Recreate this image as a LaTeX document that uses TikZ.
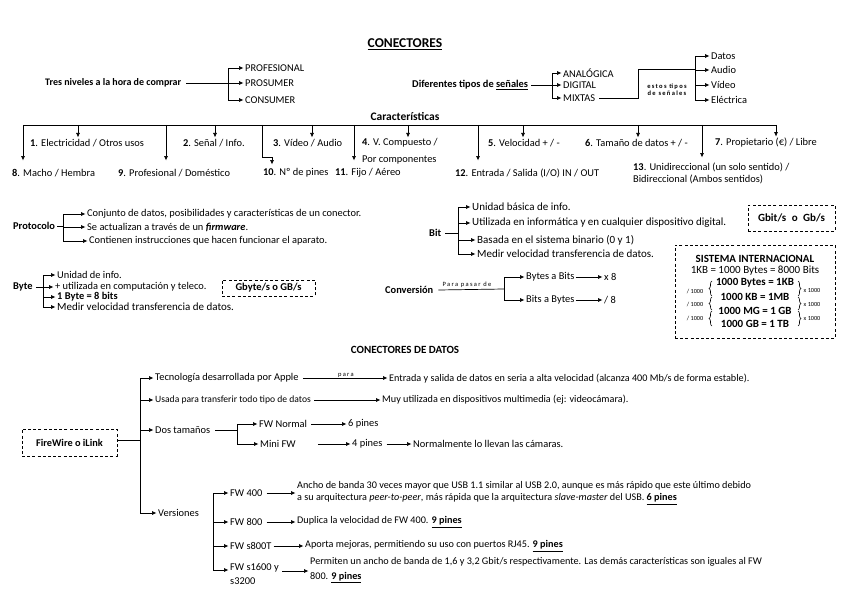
\documentclass[tikz,border=0pt]{standalone}
\usepackage{fontspec}
\setmainfont{Carlito}
\usetikzlibrary{arrows.meta,decorations.pathreplacing}
\newcommand\fsz{\fontsize{10.4}{12}\selectfont}
\newcommand\fsw{\fontsize{10.2}{12}\selectfont}
\newcommand\fsb{\fontsize{11}{13}\selectfont}
\newcommand\fsm{\fontsize{6.2}{7}\selectfont}
\newcommand\fsl{\fontsize{6.5}{7.2}\selectfont\addfontfeatures{LetterSpace=20}}
\newcommand\fssi{\fontsize{11}{13}\selectfont}
\newcommand\pinesu[1]{\underline{\textbf{#1}}}
\tikzset{
  t/.style={anchor=west, inner sep=0pt, font=\fsz},
  tb/.style={anchor=west, inner sep=0pt, font=\fsz\bfseries},
  ar/.style={-{Latex[length=4.5pt,width=4pt]}, line width=0.7pt, shorten >=1.5pt},
  ln/.style={line width=0.7pt},
  dbox/.style={draw, line width=0.8pt, dash pattern=on 3pt off 2.2pt, inner sep=0pt},
  brc/.style={line width=0.6pt, decorate, decoration={brace, amplitude=3pt}},
}
\begin{document}
\begin{tikzpicture}[x=1pt,y=-1pt]
\fill[white] (0,0) rectangle (848,599);
\useasboundingbox (0,0) rectangle (848,599);

% ---------- Title
\node[inner sep=0pt, font=\fontsize{13.5}{15}\selectfont\bfseries] (title) at (405,44) {\underline{CONECTORES}};

% ---------- Tres niveles
\node[tb, font=\fontsize{10}{12}\selectfont\bfseries] (tres) at (45,83) {Tres niveles a la hora de comprar};
\node[t] (prof) at (245,68) {PROFESIONAL};
\node[t] (pros) at (245,83) {PROSUMER};
\node[t] (cons) at (245,100) {CONSUMER};
\coordinate (j1) at (228,83);
\draw[ln] ([xshift=5pt]tres.east) -- (j1);
\draw[ar] (j1) |- (prof);
\draw[ar] (j1) -- (pros);
\draw[ar] (j1) |- (cons);

% ---------- Diferentes tipos de señales
\node[tb] (dif) at (412,85) {Diferentes tipos de \underline{señales}};
\node[t] (ana) at (563,73) {ANALÓGICA};
\node[t] (dig) at (563,85) {DIGITAL};
\node[t] (mix) at (563,98) {MIXTAS};
\coordinate (j2) at (552,85);
\draw[ln] ([xshift=3pt]dif.east) -- (j2);
\draw[ar] (j2) |- (ana);
\draw[ar] (j2) -- (dig);
\draw[ar] (j2) |- (mix);
\node[t] (dat) at (711,56) {Datos};
\node[t] (aud) at (711,70) {Audio};
\node[t] (vid) at (711,85) {Vídeo};
\node[t] (ele) at (711,100) {Eléctrica};
\coordinate (k1) at (638,98);
\coordinate (j3) at (695,69);
\draw[ln] ([xshift=4pt]mix.east) -- (k1) |- (j3);
\draw[ar] (j3) |- (dat);
\draw[ar] (j3) |- (aud);
\draw[ar] (j3) |- (vid);
\draw[ar] (j3) |- (ele);
\node[inner sep=0pt, font=\fsl\bfseries, align=center] (est) at (667,90) {estos tipos\\de señales};

% ---------- Características
\node[inner sep=0pt, font=\fontsize{11.5}{13}\selectfont\bfseries] (car) at (405,116) {Características};
\coordinate (hl) at (23,125);
\coordinate (hr) at (777,125);
\draw[ln] (hl) -- (hr);
% texts
\node[t] (c1) at (30,143) {\textbf{1}. Electricidad / Otros usos};
\node[t] (c2) at (183,143) {\textbf{2}. Señal / Info.};
\node[t] (c3) at (273,143) {\textbf{3}. Vídeo / Audio};
\node[t, align=left, font=\fontsize{10.4}{17}\selectfont] (c4) at (362,151.5) {\textbf{4}. V. Compuesto /\\Por componentes};
\node[t] (c5) at (488,143) {\textbf{5}. Velocidad + / -};
\node[t] (c6) at (585,143) {\textbf{6}. Tamaño de datos + / -};
\node[t] (c7) at (715,143) {\textbf{7}. Propietario (€) / Libre};
\node[t] (c8) at (12,173) {\textbf{8}. Macho / Hembra};
\node[t] (c9) at (118,173) {\textbf{9}. Profesional / Doméstico};
\node[t] (c10) at (263,173) {\textbf{10}. Nº de pines};
\node[t] (c11) at (335,173) {\textbf{11}. Fijo / Aéreo};
\node[t] (c12) at (455,173) {\textbf{12}. Entrada / Salida (I/O) IN / OUT};
\node[t, align=left, font=\fontsize{10.4}{11.5}\selectfont] (c13) at (633,173.5) {\textbf{13}. Unidireccional (un solo sentido) /\\Bidireccional (Ambos sentidos)};
% drops
\coordinate (d1) at (78,125);   \draw[ar] (d1) -- (d1 |- c1.north);
\coordinate (d2) at (215,125);  \draw[ar] (d2) -- (d2 |- c2.north);
\coordinate (d3) at (312,125);  \draw[ar] (d3) -- (d3 |- c3.north);
\coordinate (d4) at (408,125);  \draw[ar] (d4) -- (d4 |- c1.north);
\coordinate (d5) at (523,125);  \draw[ar] (d5) -- (d5 |- c5.north);
\coordinate (d6) at (638,125);  \draw[ar] (d6) -- (d6 |- c6.north);
\coordinate (d7) at (776,125);  \draw[ar] (d7) -- (d7 |- c7.north);
\coordinate (e8) at (23,162);   \draw[ar] (hl) -- (e8);
\coordinate (d9) at (166,125);  \coordinate (e9) at (166,162);  \draw[ar] (d9) -- (e9);
\coordinate (d10) at (262,125); \coordinate (m10) at (272,157); \coordinate (e10) at (272,166);
\draw[ar] (d10) |- (m10) -- (e10);
\coordinate (d11) at (354,125); \coordinate (e11) at (354,162); \draw[ar] (d11) -- (e11);
\coordinate (d12) at (478,125); \coordinate (e12) at (478,162); \draw[ar] (d12) -- (e12);
\coordinate (d13) at (702,125); \coordinate (e13) at (702,159); \draw[ar] (d13) -- (e13);

% ---------- Protocolo
\node[tb] (prot) at (13,226) {Protocolo};
\node[t] (p1) at (87,214) {Conjunto de datos, posibilidades y características de un conector.};
\node[t] (p2) at (87,227) {Se actualizan a través de un \textbf{\textit{firmware}}.};
\node[t] (p3) at (89,241) {Contienen instrucciones que hacen funcionar el aparato.};
\coordinate (jp) at (63,226);
\draw[ln] ([xshift=2pt]prot.east) -- (jp);
\draw[ar] (jp) |- (p1);
\draw[ar] (jp) |- (p2);
\draw[ar] (jp) |- (p3);

% ---------- Byte
\node[tb] (byte) at (13,287) {Byte};
\node[t] (b1) at (57,275) {Unidad de info.};
\node[t] (b2) at (55,287) {+ utilizada en computación y teleco.};
\node[t] (b3) at (57,297) {\textbf{1 Byte = 8 bits}};
\node[t, font=\fsb] (b4) at (57,307) {Medir velocidad transferencia de datos.};
\coordinate (jb) at (43,287);
\draw[ln] ([xshift=3pt]byte.east) -- (jb);
\draw[ar] (jb) |- (b1);
\draw[ar] (jb) -- (b2);
\draw[ar] (jb) |- (b3);
\draw[ar] (jb) |- (b4);
\node[dbox, minimum width=93pt, minimum height=16pt, font=\fontsize{10.5}{12}\selectfont\bfseries] (gby) at (268.5,288) {Gbyte/s o GB/s};

% ---------- Bit
\node[tb] (bit) at (429,233) {Bit};
\node[t, font=\fsb] (t1) at (472,207) {Unidad básica de info.};
\node[t, font=\fsb] (t2) at (472,223) {Utilizada en informática y en cualquier dispositivo digital.};
\node[t, font=\fsb] (t3) at (477,240) {Basada en el sistema binario (0 y 1)};
\node[t, font=\fsb] (t4) at (477,254) {Medir velocidad transferencia de datos.};
\coordinate (jt) at (458,233);
\draw[ln] ([xshift=4pt]bit.east) -- (jt);
\draw[ar] (jt) |- (t1);
\draw[ar] (jt) |- (t2);
\draw[ar] (jt) |- (t3);
\draw[ar] (jt) |- (t4);
\node[dbox, minimum width=87pt, minimum height=26pt, font=\fssi\bfseries] (gbi) at (791.5,218) {Gbit/s\enspace o\enspace Gb/s};

% ---------- Sistema internacional
\node[dbox, minimum width=160pt, minimum height=93pt] (si) at (755,291.5) {};
\node[inner sep=0pt, font=\fssi\bfseries] (si0) at (755,259) {SISTEMA INTERNACIONAL};
\node[inner sep=0pt, font=\fssi] (si1) at (755,271) {1KB = 1000 Bytes = 8000 Bits};
\node[inner sep=0pt, font=\fssi\bfseries] (s1) at (755,283) {1000 Bytes = 1KB};
\node[inner sep=0pt, font=\fssi\bfseries] (s2) at (755,297) {1000 KB = 1MB};
\node[inner sep=0pt, font=\fssi\bfseries] (s3) at (755,310.5) {1000 MG = 1 GB};
\node[inner sep=0pt, font=\fssi\bfseries] (s4) at (755,323.5) {1000 GB = 1 TB};
\draw[brc] (712,296) -- (712,281);
\draw[brc] (712,310) -- (712,297);
\draw[brc] (712,326) -- (712,311);
\draw[brc] (798,281) -- (798,296);
\draw[brc] (798,297) -- (798,310);
\draw[brc] (798,311) -- (798,326);
\node[inner sep=0pt, font=\fsm] (l1) at (695,291) {/ 1000};
\node[inner sep=0pt, font=\fsm] (l2) at (695,304) {/ 1000};
\node[inner sep=0pt, font=\fsm] (l3) at (695,318) {/ 1000};
\node[inner sep=0pt, font=\fsm] (r1) at (812,291) {x 1000};
\node[inner sep=0pt, font=\fsm] (r2) at (812,305) {x 1000};
\node[inner sep=0pt, font=\fsm] (r3) at (812,319) {x 1000};

% ---------- Conversión
\node[tb] (conv) at (385,290) {Conversión};
\node[inner sep=0pt, font=\fsl] (pp) at (467,284.5) {Para pasar de};
\coordinate (jc) at (504,289);
\draw[ln] ([xshift=5pt]conv.east) -- (jc);
\node[t] (bb) at (526,277) {Bytes a Bits};
\node[t] (bs) at (526,300) {Bits a Bytes};
\node[t] (x8) at (604,277) {x 8};
\node[t] (d8) at (604,300) {/ 8};
\draw[ar] (jc) |- (bb);
\draw[ar] (jc) |- (bs);
\draw[ar] ([xshift=1pt]bb.east) -- (x8);
\draw[ar] ([xshift=1pt]bs.east) -- (d8);

% ---------- Conectores de datos
\node[inner sep=0pt, font=\fontsize{11}{13}\selectfont\bfseries] (cdd) at (405,350) {CONECTORES DE DATOS};
\node[dbox, minimum width=95pt, minimum height=27pt, font=\fontsize{10.3}{12}\selectfont\bfseries] (fw) at (69.5,442.5) {FireWire o iLink};
\coordinate (jf) at (140,440);
\draw[ln] (fw.east |- jf) -- (jf);
\node[t] (f1) at (155,378) {Tecnología desarrollada por Apple};
\node[t, font=\fontsize{9.6}{11}\selectfont] (f2) at (155,400) {Usada para transferir todo tipo de datos};
\node[t] (f3) at (155,430) {Dos tamaños};
\node[t] (f4) at (158,513) {Versiones};
\draw[ar] (jf) |- (f1);
\draw[ar] (jf) |- (f2);
\draw[ar] (jf) |- (f3);
\draw[ar] (jf) |- (f4);
\node[t, font=\fsw] (g1) at (389,379) {Entrada y salida de datos en seria a alta velocidad (alcanza 400 Mb/s de forma estable).};
\node[t, font=\fsw] (g2) at (382,400) {Muy utilizada en dispositivos multimedia (ej: videocámara).};
\draw[ar] ([xshift=4pt]f1.east) -- (f1.east -| g1.west) node[midway, above=0.3pt, inner sep=0pt, font=\fsl] (para) {para};
\draw[ar] ([xshift=3pt]f2.east) -- (g2);
% dos tamaños
\coordinate (jd) at (237,430);
\node[t] (h1) at (259,424) {FW Normal};
\node[t] (h2) at (260,444) {Mini FW};
\draw[ln] ([xshift=5pt]f3.east) -- (jd);
\draw[ar] (jd) |- (h1);
\draw[ar] (jd) |- (h2);
\node[t] (h3) at (348,424) {6 pines};
\node[t] (h4) at (352,444) {4 pines};
\node[t] (h5) at (413,444) {Normalmente lo llevan las cámaras.};
\draw[ar] ([xshift=4pt]h1.east) -- (h3);
\draw[ar] ([xshift=22pt]h2.east) -- (h4);
\draw[ar] ([xshift=4pt]h4.east) -- (h5);

% versiones
\coordinate (jv) at (213,493);
\coordinate (jvb) at (213,570);
\node[t] (v1) at (230,493) {FW 400};
\node[t] (v2) at (230,522) {FW 800};
\node[t] (v3) at (230,546) {FW s800T};
\node[t, align=left, font=\fontsize{10.4}{14}\selectfont] (v4) at (230,574) {FW s1600 y\\s3200};
\draw[ar] (jv |- v1) -- (v1);
\draw[ln] (jv |- v1) -- (jvb);
\draw[ar] (jv |- v2) -- (v2);
\draw[ar] (jv |- v3) -- (v3);
\draw[ar] (jvb) -- (jvb -| v4.west);
\node[t, align=left, font=\fontsize{10.2}{12}\selectfont] (w1) at (297,493) {Ancho de banda 30 veces mayor que USB 1.1 similar al USB 2.0, aunque es más rápido que este último debido\\a su arquitectura \textit{peer-to-peer}, más rápida que la arquitectura \textit{slave-master} del USB. \pinesu{6 pines}};
\node[t, font=\fsw] (w2) at (297,522) {Duplica la velocidad de FW 400. \pinesu{9 pines}};
\node[t, font=\fsw] (w3) at (305,546) {Aporta mejoras, permitiendo su uso con puertos RJ45. \pinesu{9 pines}};
\node[t, align=left, font=\fontsize{10.2}{15}\selectfont] (w4) at (310,570) {Permiten un ancho de banda de 1,6 y 3,2 Gbit/s respectivamente. Las demás características son iguales al FW\\800. \pinesu{9 pines}};
\draw[ar] ([xshift=4pt]v1.east) -- (w1);
\draw[ar] ([xshift=4pt]v2.east) -- (w2);
\draw[ar] ([xshift=2pt]v3.east) -- (w3);
\coordinate (v4a) at (282,571);
\draw[ar] (v4a) -- (v4a -| w4.west);
\end{tikzpicture}
\end{document}
